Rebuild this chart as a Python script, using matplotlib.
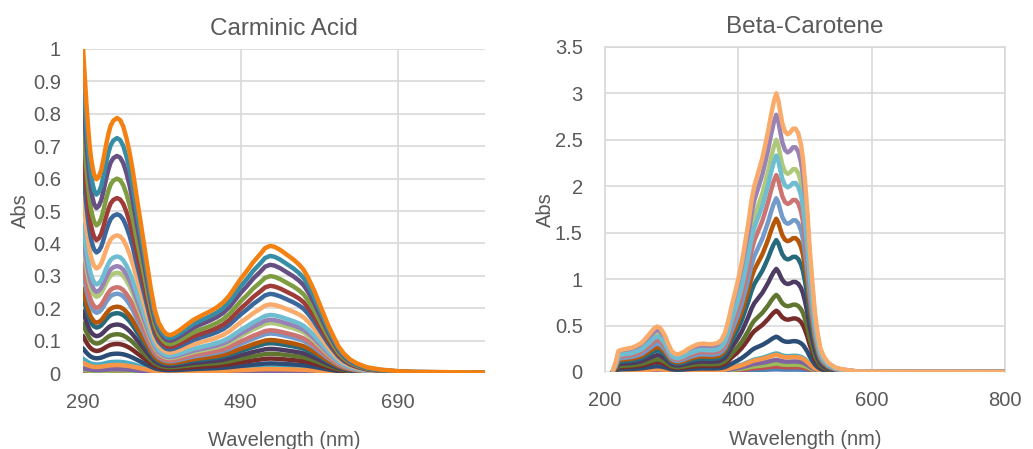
import matplotlib
matplotlib.use("Agg")
import matplotlib.pyplot as plt
import numpy as np

plt.rcParams['font.family'] = ['Liberation Sans', 'DejaVu Sans']

# Carminic acid: shape of the strongest spectrum
carm_wl = [290, 291, 292.5, 294, 296, 298, 300, 302, 304, 307, 310, 313, 316, 319, 322,
           325, 328.5, 333, 337, 341, 345, 349, 353, 358, 364, 370, 376, 381, 386, 392,
           396, 400.5, 406, 413, 421, 430, 440, 451, 460, 468, 476, 483, 490, 498, 506,
           515, 521, 527.5, 533, 540, 548, 557, 564, 570, 576, 583, 589, 595, 601, 608,
           614, 621, 629, 637.5, 650, 667, 690, 709, 750, 800]
carm_abs = [1.0, 0.96, 0.9, 0.84, 0.77, 0.71, 0.665, 0.635, 0.612, 0.597, 0.605, 0.625,
            0.66, 0.70, 0.735, 0.762, 0.778, 0.786, 0.78, 0.76, 0.725, 0.68, 0.625, 0.544,
            0.45, 0.355, 0.26, 0.195, 0.155, 0.13, 0.12, 0.117, 0.122, 0.133, 0.148,
            0.164, 0.177, 0.19, 0.203, 0.218, 0.24, 0.265, 0.29, 0.315, 0.342, 0.367,
            0.385, 0.392, 0.389, 0.38, 0.366, 0.35, 0.335, 0.318, 0.292, 0.256, 0.22,
            0.184, 0.148, 0.112, 0.083, 0.06, 0.042, 0.03, 0.018, 0.011, 0.006, 0.004,
            0.003, 0.002]
# peak height (~333 nm) of each series, series 1 .. 24
carm_peaks = [0.003, 0.005, 0.008, 0.012, 0.035, 0.025,
              0.06, 0.09, 0.12, 0.15, 0.185, 0.205,
              0.245, 0.265, 0.31, 0.33, 0.36, 0.425,
              0.49, 0.54, 0.60, 0.67, 0.725, 0.787]

# Beta-carotene: shape of the strongest spectrum
beta_wl = [212, 216, 220, 225, 232, 240, 248, 255, 262, 268, 273, 278, 282, 286, 290,
           295, 300, 305, 310, 318, 325, 333, 340, 348, 355, 362, 370, 375, 380, 385,
           390, 395, 400, 405, 410, 415, 420, 424, 428, 432, 436, 440, 445, 449, 453,
           457, 460, 463, 466, 470, 474, 478, 482, 486, 490, 494, 497, 500, 504, 507,
           511, 515, 519, 523, 528, 535, 545, 555, 580, 620, 700, 800]
beta_abs = [0.02, 0.10, 0.225, 0.24, 0.25, 0.26, 0.285, 0.315, 0.37, 0.42, 0.465, 0.49,
            0.48, 0.44, 0.39, 0.30, 0.225, 0.195, 0.19, 0.215, 0.25, 0.28, 0.30, 0.305,
            0.30, 0.30, 0.315, 0.35, 0.42, 0.55, 0.71, 0.85, 1.0, 1.17, 1.38, 1.6, 1.85,
            2.0, 2.1, 2.2, 2.3, 2.43, 2.6, 2.76, 2.9, 3.0, 2.93, 2.8, 2.68, 2.59, 2.56,
            2.58, 2.62, 2.62, 2.57, 2.45, 2.3, 2.07, 1.7, 1.35, 0.98, 0.64, 0.42, 0.26,
            0.17, 0.1, 0.05, 0.03, 0.005, 0.003, 0.002, 0.001]
# peak height (~457 nm) of each series, series 1 .. 18
beta_peaks = [0.03, 0.06, 0.09, 0.13, 0.20, 0.185,
              0.38, 0.66, 0.83, 1.11, 1.42, 1.65,
              1.87, 2.12, 2.5, 2.77, 2.33, 3.0]

# Excel 2007 series colours
colors = ['#4F81BD', '#C0504D', '#9BBB59', '#8064A2', '#4BACC6', '#F79646',
          '#2C4D75', '#772C2A', '#5F7530', '#4D3B62', '#276A7C', '#B65708',
          '#729ACA', '#CD7371', '#AFC97A', '#9983B5', '#6FBDD1', '#F9AB6B',
          '#3A679C', '#9F3B38', '#7E9C40', '#664F83', '#358EA6', '#F38011']

txt = '#595959'
grid = '#D9D9D9'

fig = plt.figure(figsize=(10.33, 4.49), dpi=100)
ax1 = fig.add_axes([0.0804, 0.169, 0.389, 0.722])
ax2 = fig.add_axes([0.5857, 0.1715, 0.387, 0.724])


def draw(ax, wl, shape, peaks, top):
    shape = np.array(shape)
    for i, p in enumerate(peaks):
        ax.plot(wl, shape * p / top, color=colors[i], lw=3.2,
                solid_joinstyle='round', solid_capstyle='round', zorder=3)


draw(ax1, carm_wl, carm_abs, carm_peaks, 0.786)
draw(ax2, beta_wl, beta_abs, beta_peaks, 3.0)

ax1.set_xlim(290, 800)
ax1.set_ylim(0, 1)
ax1.set_xticks([290, 490, 690])
ax1.set_yticks(np.arange(0, 1.01, 0.1))
ax1.set_yticklabels(['0', '0.1', '0.2', '0.3', '0.4', '0.5', '0.6', '0.7', '0.8', '0.9', '1'])
ax1.set_title('Carminic Acid', fontsize=17.5, color=txt, pad=10)

ax2.set_xlim(200, 800)
ax2.set_ylim(0, 3.5)
ax2.set_xticks([200, 400, 600, 800])
ax2.set_yticks(np.arange(0, 3.51, 0.5))
ax2.set_yticklabels(['0', '0.5', '1', '1.5', '2', '2.5', '3', '3.5'])
ax2.set_title('Beta-Carotene', fontsize=17.5, color=txt, pad=10)

for ax in (ax1, ax2):
    for s in ax.spines.values():
        s.set_visible(False)
    ax.grid(True, color=grid, lw=1.2, zorder=0)
    ax.set_axisbelow(True)
    ax.tick_params(axis='x', length=0, labelsize=14.5, colors=txt, pad=14)
    ax.tick_params(axis='y', length=0, labelsize=14.5, colors=txt, pad=16)
    ax.set_xlabel('Wavelength (nm)', fontsize=14.5, color=txt, labelpad=14)

ax1.set_ylabel('Abs', fontsize=14.5, color=txt, labelpad=2)
ax2.set_ylabel('Abs', fontsize=14.5, color=txt, labelpad=0)

for k in ('right', 'top', 'left'):
    ax2.spines[k].set_visible(True)
    ax2.spines[k].set_color(grid)
    ax2.spines[k].set_linewidth(1.2)

fig.savefig('out.png', dpi=100)
